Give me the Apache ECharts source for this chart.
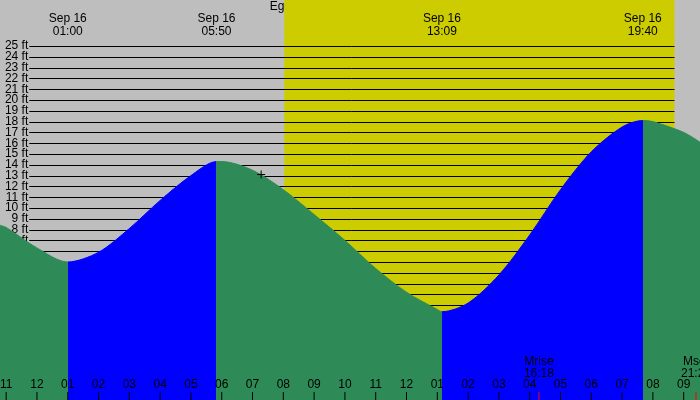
<!DOCTYPE html><html><head><meta charset="utf-8">
<script src="https://cdn.jsdelivr.net/npm/echarts@6/dist/echarts.min.js"></script>
<style>html,body{margin:0;padding:0;background:#bebebe}#c{width:700px;height:400px}</style></head><body><div id="c"></div>
<script>
// hours counted from Sep 16 00:00 (23 = Sep 15 23:00)
const tideHours = [22.8,23,24,25,26,27,28,29,29.83,30,31,32,33,34,35,36,37,37.15,38,39,40,41,42,43,43.67,44,45,45.53];
const tideFeet  = [8.4,8.2,6.3,5.0,5.9,8.1,10.7,13.0,14.3,14.3,13.5,11.7,9.4,7.0,4.4,2.2,0.6,0.4,1.2,3.8,7.5,11.7,15.2,17.5,18.1,18.0,17.0,16.1];
const extremeHours = [25,29.83,37.15,43.67];
const extremeLabels = ['Sep 16\n01:00','Sep 16\n05:50','Sep 16\n13:09','Sep 16\n19:40'];
const levels = [-2,-1,0,1,2,3,4,5,6,7,8,9,10,11,12,13,14,15,16,17,18,19,20,21,22,23,24,25];
const tickHours = [23,24,25,26,27,28,29,30,31,32,33,34,35,36,37,38,39,40,41,42,43,44,45];
const tickLabels = ['11','12','01','02','03','04','05','06','07','08','09','10','11','12','01','02','03','04','05','06','07','08','09'];
const daylight = [32.03,44.7];
const moonEvents = [[40.3,'Mrise\n16:18'],[45.4,'Mset\n21:24']];
const nowPoint = [31.28,13.1];
const title = 'Egegik River entrance, Alaska';

const FONT = 'Liberation Sans';
const chart = echarts.init(document.getElementById('c'));
const X0 = 22.8, X1 = 45.53, Y0 = -7.78, Y1 = 29.26;
chart.setOption({
  backgroundColor:'#bebebe', animation:false,
  grid:{left:0,right:0,top:0,bottom:0},
  xAxis:{type:'value',min:X0,max:X1,show:false},
  yAxis:{type:'value',min:Y0,max:Y1,show:false},
  visualMap:{show:false,type:'piecewise',dimension:0,seriesIndex:2,
    pieces:[{lt:extremeHours[0],color:'#2e8b57'},{gte:extremeHours[0],lt:extremeHours[1],color:'#0000ff'},
      {gte:extremeHours[1],lt:extremeHours[2],color:'#2e8b57'},{gte:extremeHours[2],lt:extremeHours[3],color:'#0000ff'},
      {gte:extremeHours[3],color:'#2e8b57'}]},
  series:[
    {type:'custom',silent:true,data:[daylight],renderItem:(p,api)=>{
      const a=api.coord([api.value(0),Y1]), b=api.coord([api.value(1),Y0]);
      return {type:'rect',shape:{x:a[0],y:a[1],width:b[0]-a[0],height:b[1]-a[1]},style:{fill:'#cccc00'}};
    },encode:{x:[0,1]},z:1},
    {type:'custom',silent:true,data:levels.map(v=>[v]),renderItem:(p,api)=>{
      const v=api.value(0); const a=api.coord([23.75,v]), b=api.coord([daylight[1],v]);
      return {type:'group',children:[
        {type:'line',shape:{x1:a[0],y1:Math.round(a[1])+0.5,x2:b[0],y2:Math.round(a[1])+0.5},style:{stroke:'#000',lineWidth:1}},
        {type:'text',style:{text:v+' ft',x:a[0]-1,y:a[1],align:'right',verticalAlign:'middle',font:'12px '+FONT,fill:'#000'}}]};
    },encode:{y:0},z:2},
    {type:'line',data:tideHours.map((h,i)=>[h,tideFeet[i]]),smooth:0.3,showSymbol:false,
      lineStyle:{width:1},areaStyle:{origin:'start',opacity:1},z:3},
    {type:'custom',silent:true,data:tickHours.map((h,i)=>[h,i]),renderItem:(p,api)=>{
      const h=api.value(0), i=api.value(1); const c=api.coord([h,Y0]);
      return {type:'group',children:[
        {type:'line',shape:{x1:c[0],y1:400,x2:c[0],y2:392},style:{stroke:'#000',lineWidth:1}},
        {type:'text',style:{text:tickLabels[i],x:c[0],y:385,align:'center',verticalAlign:'middle',font:'12px '+FONT,fill:'#000'}}]};
    },encode:{x:0},z:5},
    {type:'custom',silent:true,data:moonEvents.map((m,i)=>[m[0],i]),renderItem:(p,api)=>{
      const c=api.coord([api.value(0),Y0]); const m=moonEvents[api.value(1)];
      return {type:'group',children:[
        {type:'line',shape:{x1:c[0],y1:400,x2:c[0],y2:392},style:{stroke:'#ff0000',lineWidth:1}},
        {type:'text',style:{text:m[1],x:c[0],y:368,align:'center',verticalAlign:'middle',lineHeight:12,font:'12px '+FONT,fill:'#000'}}]};
    },encode:{x:0},z:5},
    {type:'custom',silent:true,data:extremeHours.map((h,i)=>[h,i]),renderItem:(p,api)=>{
      const c=api.coord([api.value(0),0]);
      return {type:'text',style:{text:extremeLabels[api.value(1)],x:c[0],y:25,align:'center',verticalAlign:'middle',lineHeight:13,font:'12px '+FONT,fill:'#000'}};
    },encode:{x:0},z:5},
    {type:'custom',silent:true,data:[nowPoint],renderItem:(p,api)=>{
      const c=api.coord([api.value(0),api.value(1)]);
      return {type:'group',children:[
        {type:'line',shape:{x1:c[0]-4,y1:c[1],x2:c[0]+4,y2:c[1]},style:{stroke:'#000'}},
        {type:'line',shape:{x1:c[0],y1:c[1]-4,x2:c[0],y2:c[1]+4},style:{stroke:'#000'}}]};
    },encode:{x:0,y:1},z:6}
  ],
  graphic:[{type:'text',left:'center',top:1,style:{text:title,font:'12px '+FONT,fill:'#000'}}]
});
</script></body></html>
